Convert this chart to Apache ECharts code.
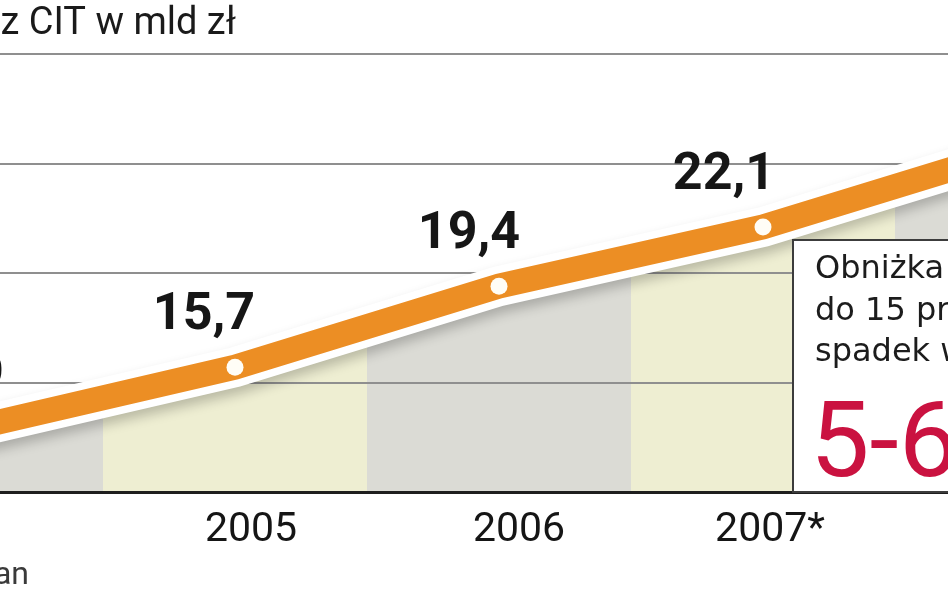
<!DOCTYPE html>
<html>
<head>
<meta charset="utf-8">
<script src="https://cdn.jsdelivr.net/npm/echarts@6/dist/echarts.min.js"></script>
<style>
html,body{margin:0;padding:0;background:#fff;}
#c{width:948px;height:593px;}
</style>
</head>
<body>
<div id="c"></div>
<script>
// ---- data ----
const years = ['2004', '2005', '2006', '2007*', '2008'];
const citRevenue = [12.9, 15.7, 19.4, 22.1, 25.8];   // wpływy z CIT, mld zł
const yTicks = [15, 20, 25, 30];
const titleText = 'Wpływy z CIT w mld zł';
const sourceText = 'Źródło: Ministerstwo Finansów   *plan';
const boxLines = ['Obniżka CIT', 'do 15 proc. oznacza', 'spadek wpływów o'];
const boxBig = '5-6 mld zł';

// ---- style ----
const FONT = 'Roboto, "Liberation Sans", sans-serif';
const BOXFONT = '"DejaVu Sans", sans-serif';
const colGray = '#dbdbd5';
const colYellow = '#eeeed2';
const orange = '#ec8e24';
const labelDx = [-18, -31, -30, -39, -10];
const axisPad = [[0, 60, 0, 0], [0, 0, 0, 32], [0, 0, 0, 40], [0, 0, 0, 14], [0, 0, 0, 0]];

const chart = echarts.init(document.getElementById('c'), null, {renderer: 'canvas'});

const rich = {};
years.forEach((y, i) => {
  rich['l' + i] = {fontSize: 41, fontFamily: FONT, color: '#151515', padding: axisPad[i]};
});

const option = {
  animation: false,
  backgroundColor: '#fff',
  grid: {left: -161, right: -211, top: 54, bottom: 101, containLabel: false, outerBoundsMode: 'none'},
  xAxis: {
    type: 'category',
    data: years,
    boundaryGap: true,
    axisLine: {show: true, lineStyle: {color: '#1e1e1e', width: 3}},
    axisTick: {show: false},
    splitLine: {show: false},
    axisLabel: {
      margin: 18,
      interval: 0,
      formatter: (v, i) => '{l' + i + '|' + v + '}',
      rich: rich
    },
    z: 6
  },
  yAxis: {
    type: 'value',
    min: 10, max: 30, interval: 5,
    show: false,
    splitLine: {show: false}
  },
  series: [
    {
      type: 'bar',
      z: 1,
      barWidth: '100%',
      barCategoryGap: 0,
      silent: true,
      data: years.map((y, i) => ({value: 30, itemStyle: {color: i % 2 === 0 ? colGray : colYellow}})),
      markLine: {
        z: 3,
        silent: true,
        symbol: ['none', 'none'],
        label: {show: false},
        lineStyle: {color: '#8f8f8f', width: 2, type: 'solid'},
        data: yTicks.map(t => ({yAxis: t}))
      }
    },
    {
      type: 'line',
      z: 2,
      silent: true,
      data: citRevenue,
      showSymbol: false,
      lineStyle: {width: 0, opacity: 0},
      areaStyle: {color: '#ffffff', opacity: 1, origin: 'end'}
    },
    {
      type: 'line',
      z: 4,
      silent: true,
      data: citRevenue,
      showSymbol: false,
      lineStyle: {color: '#ffffff', width: 40, cap: 'butt', join: 'miter',
        shadowColor: 'rgba(0,0,0,0.22)', shadowBlur: 12, shadowOffsetY: 7}
    },
    {
      type: 'line',
      z: 5,
      data: citRevenue.map((v, i) => ({value: v, label: {offset: [labelDx[i], -51]}})),
      symbol: 'circle',
      symbolSize: 17,
      itemStyle: {color: '#fffdf6', borderWidth: 0},
      lineStyle: {color: orange, width: 25, cap: 'butt', join: 'miter'},
      label: {
        show: true,
        position: 'inside',
        fontFamily: FONT,
        fontWeight: 'bold',
        fontSize: 52,
        color: '#161616',
        formatter: p => p.value.toFixed(1).replace('.', ',')
      }
    }
  ],
  graphic: [
    {type: 'text', z: 10, style: {text: titleText, x: 236, y: 24, align: 'right', verticalAlign: 'middle',
      font: '38px ' + FONT, fill: '#1a1a1a'}},
    {type: 'text', z: 10, style: {text: sourceText, x: 29, y: 576, align: 'right', verticalAlign: 'middle',
      font: '32px ' + FONT, fill: '#3a3a3a'}},
    {type: 'rect', z: 10, shape: {x: 793, y: 240, width: 220, height: 252},
      style: {fill: '#ffffff', stroke: '#3c3c3c', lineWidth: 2}},
    {type: 'text', z: 11, style: {text: boxLines[0], x: 815, y: 270, verticalAlign: 'middle', font: '32px ' + BOXFONT, fill: '#1c1c1c'}},
    {type: 'text', z: 11, style: {text: boxLines[1], x: 815, y: 312, verticalAlign: 'middle', font: '32px ' + BOXFONT, fill: '#1c1c1c'}},
    {type: 'text', z: 11, style: {text: boxLines[2], x: 815, y: 353, verticalAlign: 'middle', font: '32px ' + BOXFONT, fill: '#1c1c1c'}},
    {type: 'text', z: 11, style: {text: boxBig, x: 810, y: 449, verticalAlign: 'middle', font: '106px ' + FONT, fill: '#ca1240'}}
  ]
};

chart.setOption(option);
</script>
</body>
</html>
